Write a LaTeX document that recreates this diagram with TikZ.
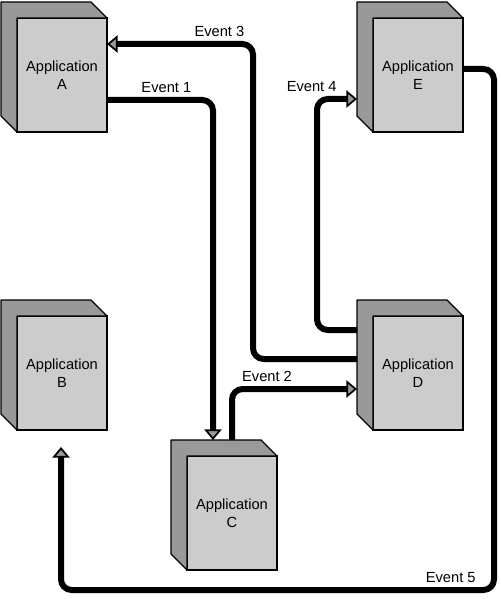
\documentclass[tikz,border=0pt]{standalone}
\usepackage{fontspec}
\setmainfont{Liberation Sans}
\usetikzlibrary{arrows.meta, calc}
\definecolor{frente}{RGB}{204,204,204}
\definecolor{fondo}{RGB}{153,153,153}

% grey side and top of an application box
\newcommand{\appside}[1]{%
  \draw[side] ([shift={(-16,-16)}]#1.north west) -- ([shift={(-16,-16)}]#1.north east)
    -- (#1.north east) -- (#1.north west) -- (#1.south west)
    -- ([shift={(-16,-16)}]#1.south west) -- cycle;}

\begin{document}
\begin{tikzpicture}[
        x=0.75pt, y=-0.75pt,
        app/.style={rectangle, draw, line width=1pt, fill=frente, minimum width=67.5pt, minimum height=85.5pt, inner sep=0pt, outer sep=0pt, align=center, font=\fontsize{11}{13.5}\selectfont},
        side/.style={draw, line width=1pt, fill=fondo, line join=round},
        flow/.style={draw, line width=4.5pt, rounded corners=8pt, -{Triangle[length=8pt, width=13pt, line width=1.3pt, fill=fondo]}},
        evlabel/.style={above, inner sep=3pt, font=\fontsize{11}{13.5}\selectfont}
    ]
        \useasboundingbox (0,0) rectangle (500,599);

        \node[app] (A) at (62,75) {Application\\A};
        \node[app] (B) at (62,373) {Application\\B};
        \node[app] (C) at (232,513) {Application\\C};
        \node[app] (D) at (418,373) {Application\\D};
        \node[app] (E) at (418,75) {Application\\E};
        \appside{A} \appside{B} \appside{C} \appside{D} \appside{E}

        \coordinate (ring) at (494,590);

        \draw[flow] ($(A.east)+(0,25)$) -| node[evlabel, pos=0.28] {Event 1} ($(C.north)+(-19,-16)$);
        \draw[flow] ($(C.north)+(0,-16)$) |- node[evlabel, pos=0.64] {Event 2} ($(D.west)+(-16,16)$);
        \draw[flow] ($(D.west)+(-16,-14)$) -| ($(A.east)+(146,-31)$) -- node[evlabel, pos=0.23] {Event 3} ($(A.east)+(0,-31)$);
        \draw[flow] ($(D.west)+(-16,-43)$) -| ($(E.west)+(-56,24)$) -- node[evlabel, pos=0, xshift=-4pt] {Event 4} ($(E.west)+(-16,24)$);
        \draw[flow] ($(E.east)+(0,-6)$) -| (ring) -| node[evlabel, pos=0.05] {Event 5} ($(B.south)+(-1,17)$);
    \end{tikzpicture}
\end{document}
